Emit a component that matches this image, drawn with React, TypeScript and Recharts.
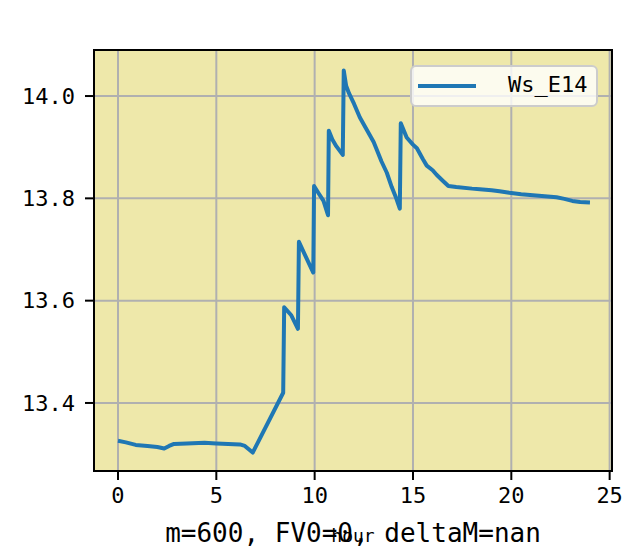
import React from "react";
import {
  LineChart,
  Line,
  XAxis,
  YAxis,
  CartesianGrid,
  ReferenceArea,
} from "recharts";

// hours since start
const hours = [
  0, 0.4, 0.9, 1.5, 2.0, 2.35, 2.6, 2.85, 3.5, 4.4, 5.0, 5.6, 6.2, 6.45, 6.85,
  8.4, 8.45, 8.8, 9.15, 9.2, 9.5, 9.93, 9.97, 10.2, 10.45, 10.68, 10.72, 10.9,
  11.1, 11.43, 11.48, 11.6, 11.75, 12.0, 12.3, 12.65, 13.0, 13.16, 13.4, 13.67,
  13.92, 14.15, 14.33, 14.38, 14.68, 15.0, 15.2, 15.5, 15.7, 16.0, 16.2, 16.5,
  16.8, 17.2, 18.0, 18.4, 19.0, 19.4, 19.9, 20.5, 21.1, 21.7, 22.3, 22.7, 23.1,
  23.5, 24.0,
];

// Ws_E14
const wsE14 = [
  13.326, 13.323, 13.318, 13.316, 13.314, 13.311, 13.316, 13.32, 13.321, 13.322,
  13.321, 13.32, 13.319, 13.316, 13.303,
  13.42, 13.587, 13.572, 13.545, 13.715, 13.69, 13.655, 13.824, 13.81, 13.795,
  13.767, 13.932, 13.915, 13.902, 13.885, 14.05, 14.02, 14.005, 13.985, 13.958,
  13.934, 13.91, 13.895, 13.872, 13.85, 13.822, 13.8, 13.78, 13.947, 13.919,
  13.905, 13.898, 13.877, 13.864, 13.855, 13.846, 13.835, 13.824, 13.822,
  13.819, 13.818, 13.816, 13.814, 13.811, 13.808, 13.806, 13.804, 13.802,
  13.799, 13.795, 13.793, 13.792,
];

const xTicks = [0, 5, 10, 15, 20, 25];
const yTicks = [13.4, 13.6, 13.8, 14.0];
const xDomain = [-1.22, 25.12];
const yDomain = [13.267, 14.09];

const subtitle = "m=600, FV0=0, deltaM=nan";
const xLabel = "hour";
const seriesName = "Ws_E14";

const data = hours.map((h, i) => ({ hour: h, value: wsE14[i] }));

const FONT = "'DejaVu Sans Mono', monospace";

const BottomText = (props: any) => {
  const vb = props.viewBox || { x: 94, y: 471, width: 518 };
  const cx = vb.x + vb.width / 2;
  const y = vb.y + 71;
  return (
    <g>
      <text x={cx} y={y} textAnchor="middle" fontFamily={FONT} fontSize={26} fill="#000">
        {subtitle}
      </text>
      <text x={cx} y={y} textAnchor="middle" fontFamily={FONT} fontSize={18} fill="#000">
        {xLabel}
      </text>
    </g>
  );
};

// legend drawn over the chart so it does not take space from the plot
const LegendBox = () => (
  <div
    style={{
      position: "absolute",
      left: 410,
      top: 65,
      width: 188,
      height: 42,
      boxSizing: "border-box",
      background: "rgba(255,255,255,0.8)",
      border: "2px solid #cccccc",
      borderRadius: 6,
      fontFamily: FONT,
      fontSize: 22,
    }}
  >
    <svg width={60} height={10} style={{ position: "absolute", left: 6, top: 14 }}>
      <line x1={0} y1={5} x2={58} y2={5} stroke="#1f77b4" strokeWidth={4} />
    </svg>
    <span style={{ position: "absolute", left: 96, top: 5, whiteSpace: "pre" }}>
      {seriesName}
    </span>
  </div>
);

export default function App() {
  return (
    <div style={{ position: "absolute", left: 0, top: 0, width: 625, height: 553, background: "#fff" }}>
      <LineChart
        width={625}
        height={553}
        data={data}
        margin={{ top: 50, right: 13, bottom: 52, left: 0 }}
      >
        <CartesianGrid
          fill="#eee8aa"
          fillOpacity={1}
          stroke="#b0b0b0"
          strokeWidth={2}
          horizontalValues={yTicks}
          verticalValues={xTicks}
        />
        <XAxis
          dataKey="hour"
          type="number"
          domain={xDomain}
          ticks={xTicks}
          allowDataOverflow
          height={30}
          tickSize={9}
          tickMargin={7}
          stroke="#000"
          strokeWidth={2}
          tick={{ fill: "#000", fontFamily: FONT, fontSize: 22 }}
          label={<BottomText />}
        />
        <YAxis
          type="number"
          domain={yDomain}
          ticks={yTicks}
          allowDataOverflow
          width={94}
          tickSize={9}
          tickMargin={10}
          stroke="#000"
          strokeWidth={2}
          tickFormatter={(v: number) => v.toFixed(1)}
          tick={{ fill: "#000", fontFamily: FONT, fontSize: 22 }}
        />
        <Line
          dataKey="value"
          name={seriesName}
          type="linear"
          stroke="#1f77b4"
          strokeWidth={4}
          strokeLinejoin="round"
          dot={false}
          isAnimationActive={false}
        />
        <ReferenceArea
          x1={xDomain[0]}
          x2={xDomain[1]}
          y1={yDomain[0]}
          y2={yDomain[1]}
          fill="none"
          stroke="#000"
          strokeWidth={2}
        />
      </LineChart>
      <LegendBox />
    </div>
  );
}
